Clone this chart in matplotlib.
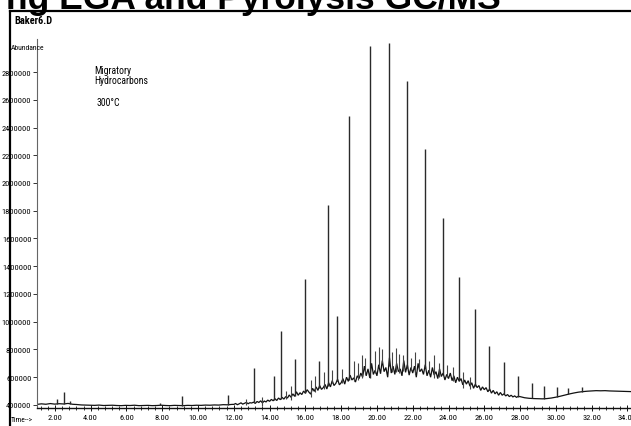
import numpy as np
import matplotlib
matplotlib.use('Agg')
import matplotlib.pyplot as plt
from matplotlib.lines import Line2D
from matplotlib.ticker import MultipleLocator, FixedLocator, FuncFormatter
from matplotlib import font_manager

# ---------------- data (abundance in thousands, time in minutes) ----------------
base_early = [404, 408, 405, 410, 406, 409, 407, 411, 405, 403,
              400, 399, 398, 397, 399, 396, 397, 398, 396, 395,
              397, 396, 398, 395, 396, 397, 395, 396, 398, 396,
              395, 397, 396, 395, 397, 396, 398, 397, 399, 398,
              400, 399, 402, 401, 404]                      # 1.0 .. 11.9 min
base_mid = [404, 410, 402, 408, 415, 406, 412, 418, 409, 416,
            414, 420, 411, 425, 418, 430, 415, 428, 422, 435,
            426, 440, 430, 445, 432, 450, 438, 455, 442, 460,
            450, 472, 455, 480, 462, 495, 470, 488, 475, 500,
            485, 510, 492, 478, 520, 498, 530, 505, 540, 512,
            525, 548, 515, 560, 530, 575, 540, 555, 585, 545,
            560, 590, 550, 600, 570, 615, 580, 595, 565, 610,
            590, 630, 600, 680, 610, 660, 595, 700, 620, 650,
            610, 690, 625, 720, 640, 670, 600, 740, 630, 680,
            620, 700, 640, 660, 610, 720, 635, 690, 615, 670,
            630, 680, 600, 700, 640, 660, 620, 690, 610, 650,
            600, 670, 615, 640, 590, 660, 605, 630, 580, 620,
            590, 630, 575, 610, 560, 600, 570, 590, 545, 580,
            550, 575, 535, 560, 520, 550, 525, 540, 505, 530,
            510, 525, 495, 515, 485, 505, 480, 495, 470, 490,
            470, 480, 465, 475, 460, 470, 458, 465, 455, 462,
            460]                                             # 12.0 .. 28.0 min
base_late = [452, 448, 446, 445, 444, 446, 450, 456, 463, 471,
             479, 486, 492, 496, 499, 501, 503, 502, 503, 501,
             500, 499, 498, 497, 496]                        # 28.25 .. 34.25 min

# n-alkane peaks
peak_t = [2.1, 2.5, 2.84, 7.87, 9.1, 11.7, 13.12, 14.23, 14.63, 15.41,
          15.97, 16.75, 17.25, 17.75, 18.42, 19.6, 20.66, 21.66, 22.67,
          23.68, 24.57, 25.46, 26.25, 27.08, 27.87, 28.65, 29.32, 30.04,
          30.7, 31.44]
peak_h = [440, 495, 432, 415, 468, 470, 665, 610, 935, 730,
          1310, 715, 1840, 1040, 2480, 2990, 3010, 2735, 2245,
          1750, 1320, 1095, 825, 710, 610, 560, 537, 528,
          520, 526]
# small unresolved peaks on the hump
minor_t = [12.7, 13.6, 14.9, 15.2, 16.3, 16.55, 17.05, 17.5, 18.05, 18.7,
           18.95, 19.15, 19.35, 19.9, 20.1, 20.3, 20.85, 21.05, 21.25, 21.45,
           21.9, 22.15, 22.35, 22.9, 23.2, 23.45, 23.9, 24.25, 24.8, 25.2]
minor_h = [440, 455, 500, 540, 580, 610, 640, 650, 660, 720,
           700, 760, 740, 790, 820, 800, 780, 810, 770, 760,
           740, 780, 730, 720, 760, 700, 690, 670, 640, 600]

yticks = [400000, 600000, 800000, 1000000, 1200000, 1400000, 1600000,
          1800000, 2000000, 2200000, 2400000, 2600000, 2800000]
xticks = [2, 4, 6, 8, 10, 12, 14, 16, 18, 20, 22, 24, 26, 28, 30, 32, 34]

title_text = "ng EGA and Pyrolysis GC/MS"
file_text = "Baker6.D"
ylabel_text = "Abundance"
xlabel_text = "Time-->"
note1 = "Migratory\nHydrocarbons"
note2 = "300\u00b0C"

# ---------------- fonts ----------------
entries = font_manager.fontManager.ttflist
names = {f.name for f in entries}
narrow = None
narrow_stretch = 'normal'
for cand in ['Liberation Sans Narrow', 'Arial Narrow', 'Roboto Condensed',
             'Open Sans Condensed', 'Noto Sans Condensed']:
    if cand in names:
        narrow = cand
        break
if narrow is None:
    for f in entries:
        if str(f.stretch) in ('condensed', 'semi-condensed', 'extra-condensed') \
                and 'Mono' not in f.name and 'Serif' not in f.name:
            narrow = f.name
            narrow_stretch = f.stretch
            break
tick_size = 6.0
if narrow is None:
    narrow = 'Liberation Sans'
    tick_size = 5.0
plt.rcParams['font.family'] = [narrow, 'DejaVu Sans']
plt.rcParams['font.stretch'] = narrow_stretch

W, H = 631, 427
fig = plt.figure(figsize=(W / 100, H / 100), dpi=100)
fig.patch.set_facecolor('white')

def fx(px):
    return px / W

def fy(py):
    return 1 - py / H

ax = fig.add_axes([fx(37), fy(409), 1 - fx(37), fy(40) - fy(409)])

t_early = np.linspace(1.0, 11.9, len(base_early))
t_mid = np.linspace(12.0, 28.0, len(base_mid))
t_late = np.linspace(28.25, 34.25, len(base_late))
trace_t = np.concatenate([t_early, t_mid, t_late])
trace_v = np.concatenate([base_early, base_mid, base_late]) * 1000.0

ax.plot(trace_t, trace_v, color='#111111', lw=0.9, solid_joinstyle='miter')
mn_t = np.array(minor_t)
mn_h = np.array(minor_h) * 1000.0
ax.vlines(mn_t, np.interp(mn_t, trace_t, trace_v) - 20000, mn_h,
          color='#444444', lw=0.8)
pk_t = np.array(peak_t)
pk_h = np.array(peak_h) * 1000.0
pk_base = np.interp(pk_t, trace_t, trace_v)
ax.vlines(pk_t, pk_base, pk_h, color='#2a2a2a', lw=1.0)

ax.set_xlim(1.0, 34.2)
ax.set_ylim(378000, 3038000)

for s in ['top', 'right']:
    ax.spines[s].set_visible(False)
ax.spines['left'].set_color('#666666')
ax.spines['left'].set_linewidth(0.8)
ax.spines['bottom'].set_color('#111111')
ax.spines['bottom'].set_linewidth(1.0)

ax.yaxis.set_major_locator(FixedLocator(yticks))
ax.yaxis.set_major_formatter(FuncFormatter(lambda v, p: f"{int(round(v))}"))
ax.xaxis.set_major_locator(FixedLocator(xticks))
ax.xaxis.set_major_formatter(FuncFormatter(lambda v, p: f"{v:.2f}"))
ax.xaxis.set_minor_locator(MultipleLocator(0.4))
ax.tick_params(axis='y', which='major', length=3, width=0.7, color='#333333',
               labelsize=tick_size, pad=1, labelcolor='black')
ax.tick_params(axis='x', which='major', length=4, width=0.7, color='#111111',
               labelsize=tick_size, pad=2, direction='inout', labelcolor='black')
ax.tick_params(axis='x', which='minor', length=3, width=0.6, color='#111111',
               direction='inout')

# ---------------- texts ----------------
fig.text(fx(6), fy(9), title_text, fontsize=25.5, fontweight='bold',
         family=['Liberation Sans', 'DejaVu Sans'], stretch='normal',
         ha='left', va='baseline', color='black')
fig.text(fx(14), fy(21), file_text, fontsize=7.5, fontweight='bold',
         ha='left', va='center', color='black')
fig.text(fx(11), fy(48), ylabel_text, fontsize=5.5, ha='left', va='center',
         color='black')
fig.text(fx(11), fy(420), xlabel_text, fontsize=5.5, ha='left', va='center',
         color='black')
fig.text(fx(94), fy(66), note1, fontsize=7, ha='left', va='top',
         color='black', linespacing=1.0)
fig.text(fx(97), fy(103), note2, fontsize=7, ha='left', va='center',
         color='black')

# frame lines around the screenshot panel
fig.add_artist(Line2D([fx(10), 1.0], [fy(12), fy(12)], color='black', lw=1.6))
fig.add_artist(Line2D([fx(10), fx(10)], [fy(12), 0.0], color='black', lw=1.6))

fig.savefig('out.png', dpi=100, facecolor='white')
